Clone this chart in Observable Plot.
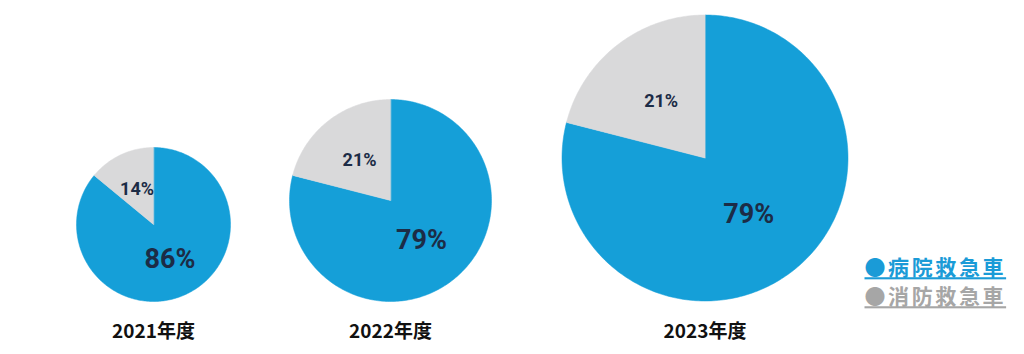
<!DOCTYPE html>
<html><head><meta charset="utf-8">
<script src="https://cdn.jsdelivr.net/npm/d3@7"></script>
<script src="https://cdn.jsdelivr.net/npm/@observablehq/plot@0.6"></script>
<style>
body{margin:0;background:#fff}
svg text[fill="#1a9bd7"], svg text[fill="#a6a6a6"]{letter-spacing:2.6px;text-decoration:underline}
</style>
</head><body><div id="chart"></div>
<script>
// ---- data ----
const years = ["2021年度", "2022年度", "2023年度"];
const categories = ["病院救急車", "消防救急車"];
const hospitalShare = [86, 79, 79];
const fireShare = [14, 21, 21];

// ---- styles / layout ----
const sliceColors = ["#159fd8", "#d9d9da"];
const legendColors = ["#1a9bd7", "#a6a6a6"];
const labelColor = "#1c2c46";
const centers = [[153, 224], [390, 200], [704.5, 157.5]];
const radii = [77, 101, 143];

// ---- build slices through d3.pie ----
const pieGen = d3.pie().sort(null);
const slicePts = [];
const labels = [];
years.forEach((yr, i) => {
  const [cx, cy] = centers[i];
  const r = radii[i];
  const arcs = pieGen([hospitalShare[i], fireShare[i]]);
  arcs.forEach((a, k) => {
    const id = yr + "-" + k;
    slicePts.push({id, x: cx, y: cy, color: sliceColors[k]});
    const n = Math.max(2, Math.ceil((a.endAngle - a.startAngle) / (Math.PI / 180)));
    for (let j = 0; j <= n; j++) {
      const t = a.startAngle + (a.endAngle - a.startAngle) * j / n;
      slicePts.push({id, x: cx + r * Math.sin(t), y: cy - r * Math.cos(t), color: sliceColors[k]});
    }
    const m = (a.startAngle + a.endAngle) / 2;
    labels.push({cat: k, x: cx + 0.5 * r * Math.sin(m), y: cy - 0.5 * r * Math.cos(m), text: a.data + "%"});
  });
});

const yearRows = years.map((y, i) => ({x: centers[i][0], y: 331, text: y}));
const legendRows = categories.map((c, k) => ({x: 864, y: 268 + k * 29, text: "●" + c, color: legendColors[k]}));

const chart = Plot.plot({
  width: 1024, height: 354, margin: 0,
  x: {domain: [0, 1024], range: [0, 1024], axis: null},
  y: {domain: [0, 354], range: [0, 354], axis: null},
  color: {type: "identity"},
  marks: [
    Plot.line(slicePts, {x: "x", y: "y", z: "id", fill: "color", stroke: "color", strokeWidth: 0.5, curve: "linear-closed"}),
    Plot.text(labels.filter(d => d.cat === 0), {x: "x", y: "y", text: "text", fontSize: 27, fontWeight: "bold", fill: labelColor, fontFamily: "Roboto"}),
    Plot.text(labels.filter(d => d.cat === 1), {x: "x", y: "y", text: "text", fontSize: 18, fontWeight: "bold", fill: labelColor, fontFamily: "Roboto"}),
    Plot.text(yearRows, {x: "x", y: "y", text: "text", fontSize: 19, fontWeight: "bold", fill: "#111", fontFamily: "Noto Sans CJK JP"}),
    Plot.text(legendRows, {x: "x", y: "y", text: "text", fill: "color", fontSize: 21, fontWeight: "bold", textAnchor: "start", fontFamily: "Noto Sans CJK JP"})
  ]
});
document.getElementById("chart").append(chart);
</script>
</body></html>
